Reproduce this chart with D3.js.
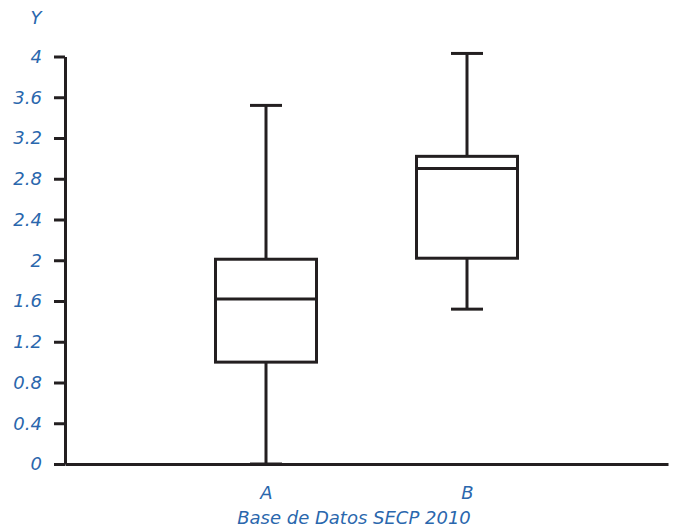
<!DOCTYPE html>
<html><head><meta charset="utf-8">
<script src="https://cdn.jsdelivr.net/npm/d3@7"></script>
<style>body{margin:0;background:#fff}text{font-family:"DejaVu Sans",sans-serif;font-style:italic;fill:#2a67ad}</style>
</head><body><svg id="c" width="675" height="531"></svg>
<script>
const categories = ["A", "B"];
const whiskerLow = [0, 1.52];
const q1 = [1.0, 2.02];
const median = [1.62, 2.9];
const q3 = [2.01, 3.02];
const whiskerHigh = [3.52, 4.03];
const yTicks = [0, 0.4, 0.8, 1.2, 1.6, 2, 2.4, 2.8, 3.2, 3.6, 4];
const yTitle = "Y";
const xTitle = "Base de Datos SECP 2010";

const svg = d3.select("#c");
const ink = "#231f20";
const fs = 18;
const y = d3.scaleLinear().domain([0, 4]).range([464, 56.5]);
const x = d3.scalePoint().domain(categories).range([65, 668]).padding(1);

const yAxis = d3.axisLeft(y).tickValues(yTicks).tickSize(11).tickSizeOuter(0).tickPadding(12)
  .tickFormat(d => d3.format("")(d));
const gy = svg.append("g").attr("transform", "translate(65,0)").call(yAxis);
gy.select(".domain").attr("stroke", ink).attr("stroke-width", 3);
gy.selectAll(".tick line").attr("stroke", ink).attr("stroke-width", 3);
gy.selectAll(".tick text").attr("font-size", fs).attr("fill", "#2a67ad").attr("font-family", null);

const xAxis = d3.axisBottom(x).tickSize(0).tickSizeOuter(0).tickPadding(22);
const gx = svg.append("g").attr("transform", "translate(0,464)").call(xAxis);
gx.select(".domain").attr("stroke", ink).attr("stroke-width", 3);
gx.selectAll(".tick text").attr("font-size", fs).attr("fill", "#2a67ad").attr("font-family", null);

svg.append("text").attr("x", 36).attr("y", 24).attr("text-anchor", "middle").attr("font-size", fs).text(yTitle);
svg.append("text").attr("x", 354).attr("y", 524).attr("text-anchor", "middle").attr("font-size", fs).text(xTitle);

const boxW = 101, capW = 32;
const data = categories.map((c, i) => ({c, lo: whiskerLow[i], q1: q1[i], med: median[i], q3: q3[i], hi: whiskerHigh[i]}));
const g = svg.append("g").attr("stroke", ink).attr("stroke-width", 3).attr("fill", "none");
data.forEach(d => {
  const cx = x(d.c);
  g.append("line").attr("x1", cx).attr("x2", cx).attr("y1", y(d.q3)).attr("y2", y(d.hi));
  g.append("line").attr("x1", cx).attr("x2", cx).attr("y1", y(d.q1)).attr("y2", y(d.lo));
  g.append("line").attr("x1", cx - capW/2).attr("x2", cx + capW/2).attr("y1", y(d.hi)).attr("y2", y(d.hi));
  g.append("line").attr("x1", cx - capW/2).attr("x2", cx + capW/2).attr("y1", y(d.lo)).attr("y2", y(d.lo));
  g.append("rect").attr("x", cx - boxW/2).attr("width", boxW).attr("y", y(d.q3)).attr("height", y(d.q1) - y(d.q3));
  g.append("line").attr("x1", cx - boxW/2).attr("x2", cx + boxW/2).attr("y1", y(d.med)).attr("y2", y(d.med));
});
</script></body></html>
